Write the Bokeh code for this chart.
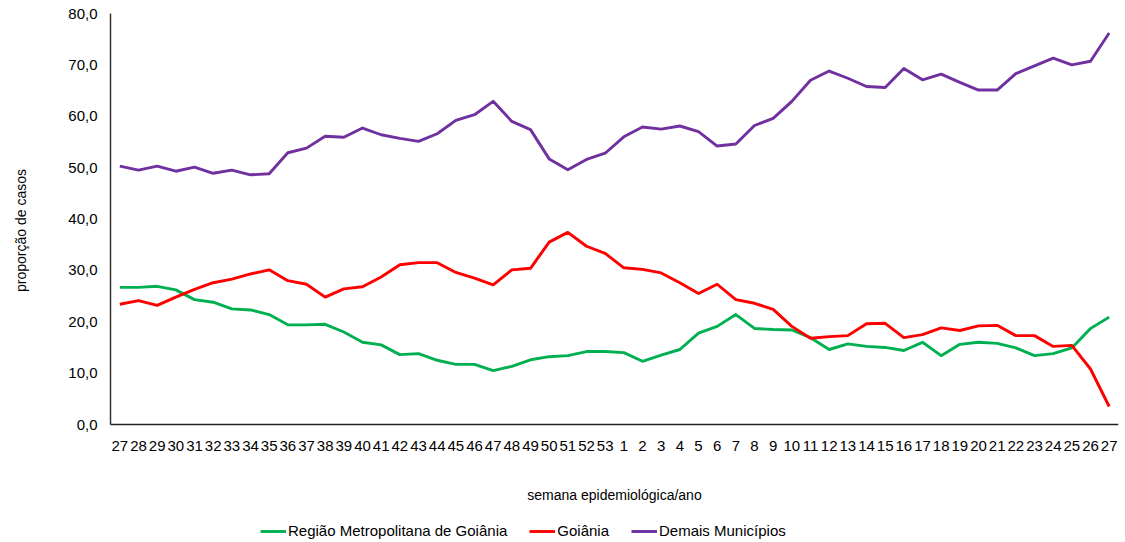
import math
from bokeh.plotting import figure
from bokeh.models import Range1d, FixedTicker, Legend, LegendItem, Label
from bokeh.embed import file_html
from bokeh.resources import INLINE

weeks = [str(w) for w in range(27, 54)] + [str(w) for w in range(1, 28)]

metro = [26.7, 26.7, 26.9, 26.2, 24.3, 23.8, 22.5, 22.3, 21.4, 19.4,
         19.4, 19.5, 18.0, 16.0, 15.5, 13.6, 13.8, 12.5, 11.7, 11.7,
         10.5, 11.3, 12.6, 13.2, 13.4, 14.2, 14.2, 14.0, 12.3, 13.5,
         14.6, 17.8, 19.1, 21.4, 18.7, 18.5, 18.4, 16.9, 14.6, 15.7,
         15.2, 15.0, 14.4, 16.0, 13.4, 15.6, 16.0, 15.8, 14.9, 13.4,
         13.8, 14.9, 18.7, 20.9]

goiania = [23.4, 24.1, 23.2, 24.8, 26.3, 27.6, 28.3, 29.3, 30.1, 28.0,
           27.3, 24.8, 26.4, 26.8, 28.7, 31.1, 31.5, 31.5, 29.6, 28.5,
           27.2, 30.1, 30.4, 35.5, 37.4, 34.7, 33.3, 30.5, 30.2, 29.5,
           27.6, 25.5, 27.3, 24.3, 23.6, 22.4, 19.1, 16.8, 17.1, 17.3,
           19.6, 19.7, 16.9, 17.5, 18.8, 18.3, 19.2, 19.3, 17.3, 17.3,
           15.2, 15.4, 10.8, 3.5]

demais = [50.3, 49.5, 50.3, 49.3, 50.1, 48.9, 49.5, 48.6, 48.8, 52.9,
          53.8, 56.1, 55.9, 57.7, 56.4, 55.7, 55.1, 56.6, 59.2, 60.3,
          62.9, 59.0, 57.4, 51.7, 49.6, 51.6, 52.8, 56.0, 57.9, 57.5,
          58.1, 57.0, 54.2, 54.6, 58.2, 59.6, 62.9, 67.0, 68.8, 67.4,
          65.8, 65.6, 69.3, 67.1, 68.2, 66.6, 65.1, 65.1, 68.3, 69.8,
          71.3, 70.0, 70.7, 76.2]

series_names = ["Região Metropolitana de Goiânia", "Goiânia", "Demais Municípios"]
series_colors = ["#00B050", "#FF0000", "#7030A0"]

y_ticks = [0, 10, 20, 30, 40, 50, 60, 70, 80]
y_tick_labels = ["0,0", "10,0", "20,0", "30,0", "40,0", "50,0", "60,0", "70,0", "80,0"]

FONT = "Liberation Sans"

# Frame covers the whole canvas except a thin right strip; axes are pinned at
# x=-0.5 / y=0 so the value area sits at 110..1118 x 13..424 in pixels.
W, H = 1125, 542
TOP, ZERO_Y = 13, 424
LEFT_PX, RIGHT_PX = 110, 1118
n = len(weeks)
px_per_unit = (ZERO_Y - TOP) / 80.0
y_min = -(H - ZERO_Y) / px_per_unit
y_max = 80 + TOP / px_per_unit
px_per_cat = (RIGHT_PX - LEFT_PX) / n
x_min = -0.5 - LEFT_PX / px_per_cat

p = figure(width=W, height=H, output_backend="svg", toolbar_location=None,
           x_range=Range1d(x_min, n - 0.5), y_range=Range1d(y_min, y_max),
           min_border_left=0, min_border_right=W - RIGHT_PX, min_border_top=0,
           min_border_bottom=0)
p.outline_line_color = None
p.xgrid.grid_line_color = None
p.ygrid.grid_line_color = None
p.background_fill_color = "white"
p.border_fill_color = "white"

xs = list(range(n))
renderers = []
for vals, col in zip([metro, goiania, demais], series_colors):
    r = p.line(xs, vals, line_color=col, line_width=2.9, line_join="round")
    renderers.append(r)

# X axis (pinned at y = 0)
p.xaxis.fixed_location = 0
p.xaxis.bounds = (-0.5, n - 0.5)
p.xaxis.ticker = FixedTicker(ticks=xs)
p.xaxis.major_label_overrides = {i: w for i, w in enumerate(weeks)}
p.xaxis.major_tick_line_color = None
p.xaxis.major_tick_out = 0
p.xaxis.major_tick_in = 0
p.xaxis.minor_tick_line_color = None
p.xaxis.major_label_standoff = 16
p.xaxis.major_label_text_font = FONT
p.xaxis.major_label_text_font_size = "15px"
p.xaxis.major_label_text_color = "black"
p.xaxis.axis_line_color = "#222222"
p.xaxis.axis_line_width = 1.5
p.xaxis.axis_label = "semana epidemiológica/ano"
p.xaxis.axis_label_text_font = FONT
p.xaxis.axis_label_text_font_style = "normal"
p.xaxis.axis_label_text_font_size = "14px"
p.xaxis.axis_label_text_color = "black"
p.xaxis.axis_label_standoff = 33

# Y axis (pinned at the left edge of the first category)
p.yaxis.fixed_location = -0.5
p.yaxis.bounds = (0, 80)
p.yaxis.ticker = FixedTicker(ticks=y_ticks)
p.yaxis.major_label_overrides = {t: l for t, l in zip(y_ticks, y_tick_labels)}
p.yaxis.major_tick_line_color = None
p.yaxis.major_tick_out = 0
p.yaxis.major_tick_in = 0
p.yaxis.minor_tick_line_color = None
p.yaxis.major_label_standoff = 13
p.yaxis.major_label_text_font = FONT
p.yaxis.major_label_text_font_size = "15px"
p.yaxis.major_label_text_color = "black"
p.yaxis.axis_line_color = "#333333"
p.yaxis.axis_line_width = 1.5

# y-axis title, centred on the 0..80 value span
p.add_layout(Label(x=20, y=H - 230, x_units="screen", y_units="screen",
                   text="proporção de casos", angle=math.pi / 2,
                   text_align="center", text_baseline="middle",
                   text_font=FONT, text_font_size="14px", text_color="black"))

legend = Legend(items=[LegendItem(label=nm, renderers=[r]) for nm, r in zip(series_names, renderers)],
                orientation="horizontal", location=(260, 3),
                glyph_width=26, glyph_height=16, label_height=16,
                label_standoff=2, spacing=22, padding=0, margin=0,
                border_line_color=None, background_fill_alpha=0,
                label_text_font=FONT, label_text_font_size="15px",
                label_text_color="black")
p.add_layout(legend, "center")

open("out.html", "w").write(file_html(p, INLINE))
